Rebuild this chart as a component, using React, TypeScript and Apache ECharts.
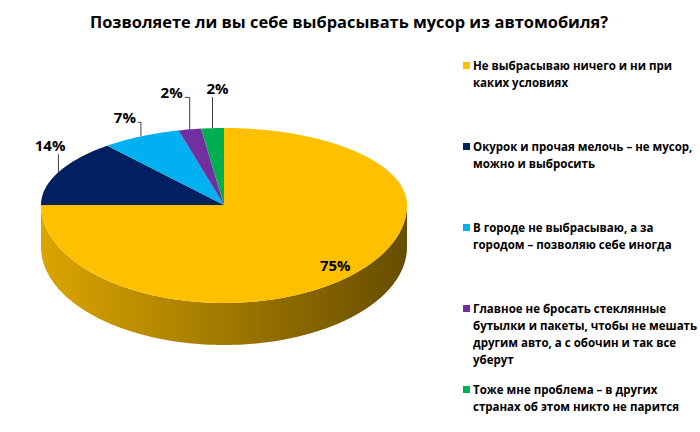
import { useEffect, useRef } from "react";
import * as echarts from "echarts";

const chartTitle = "Позволяете ли вы себе выбрасывать мусор из автомобиля?";
const categories = [
  "Не выбрасываю ничего и ни при\nкаких условиях",
  "Окурок и прочая мелочь – не мусор,\nможно и выбросить",
  "В городе не выбрасываю, а за\nгородом – позволяю себе иногда",
  "Главное не бросать стеклянные\nбутылки и пакеты, чтобы не мешать\nдругим авто, а с обочин и так все\nуберут",
  "Тоже мне проблема – в других\nстранах об этом никто не парится",
];
const shares = [75, 14, 7, 2, 2];
const colors = ["#FFC000", "#002060", "#00B0F0", "#7030A0", "#00B050"];

// 3D pie look: ellipse with a flatter back half (perspective) and a side wall
const CX = 224;
const CY = 205;
const RX = 183;
const RY_BACK = 77;
const RY_FRONT = 98;
const DEPTH = 42;
// label anchor (right edge, middle) relative to the rim point at the slice middle; null = inside
const labelOffsets: (number[] | null)[] = [null, [7, -27], [-5, -19], [-7, -37], [16, -40]];

const FONT = "'Open Sans', 'Noto Sans', sans-serif";

const rimPoint = (deg: number, k = 1, dy = 0) => {
  const r = (deg * Math.PI) / 180;
  const c = Math.cos(r);
  const ry = c > 0 ? RY_BACK : RY_FRONT;
  return [CX + RX * k * Math.sin(r), CY - ry * k * c + dy];
};

const arc = (a0: number, a1: number, dy = 0) => {
  const n = Math.max(2, Math.ceil(Math.abs(a1 - a0)));
  const pts: number[][] = [];
  for (let i = 0; i <= n; i++) pts.push(rimPoint(a0 + ((a1 - a0) * i) / n, 1, dy));
  return pts;
};

// darken a colour by a factor (0..1)
const shade = (color: string, f: number) => {
  const c = echarts.color.parse(color);
  return `rgb(${Math.round(c[0] * f)},${Math.round(c[1] * f)},${Math.round(c[2] * f)})`;
};

export default function App() {
  const chartRef = useRef<HTMLDivElement>(null);

  useEffect(() => {
    document.body.style.margin = "0";
    if (!chartRef.current) return;
    const chart = echarts.init(chartRef.current, undefined, { renderer: "svg" });
    const total = shares.reduce((s, v) => s + v, 0);

    chart.setOption({
      animation: false,
      backgroundColor: "#fff",
      title: {
        text: chartTitle,
        left: 85,
        top: 8,
        textStyle: { fontFamily: FONT, fontSize: 16.4, fontWeight: "bold", color: "#000" },
      },
      series: [
        {
          type: "custom",
          coordinateSystem: "none",
          data: shares.map((v, i) => ({ value: v, name: categories[i], itemStyle: { color: colors[i] } })),
          renderItem: (params: any, api: any) => {
            const i = params.dataIndex;
            const v = api.value(0) as number;
            const before = shares.slice(0, i).reduce((s, x) => s + x, 0);
            const start = (before / total) * 360;
            const end = ((before + v) / total) * 360;
            const mid = (start + end) / 2;
            const color = api.visual("color") as string;
            const children: any[] = [];

            const s0 = Math.max(start, 90);
            const s1 = Math.min(end, 270);
            if (s1 > s0) {
              children.push({
                type: "polygon",
                shape: { points: [...arc(s0, s1), ...arc(s1, s0, DEPTH)] },
                style: {
                  fill: new echarts.graphic.LinearGradient(0, 0, 1, 0, [
                    { offset: 0, color: shade(color, 0.86) },
                    { offset: 0.5, color: shade(color, 0.63) },
                    { offset: 1, color: shade(color, 0.4) },
                  ]),
                },
              });
            }
            children.push({
              type: "polygon",
              shape: { points: [[CX, CY], ...arc(start, end)] },
              style: { fill: color },
            });

            const text = Math.round((v / total) * 100) + "%";
            const off = labelOffsets[i];
            if (!off) {
              const [lx, ly] = rimPoint(mid, 0.86);
              children.push({
                type: "text",
                x: lx,
                y: ly,
                style: { text, fill: "#000", fontFamily: FONT, fontSize: 15, fontWeight: "bold", align: "center", verticalAlign: "middle" },
              });
            } else {
              const [rx, ry] = rimPoint(mid);
              const lx = rx + off[0];
              const ly = ry + off[1];
              children.push({
                type: "text",
                x: lx,
                y: ly,
                style: { text, fill: "#000", fontFamily: FONT, fontSize: 15, fontWeight: "bold", align: "right", verticalAlign: "middle" },
              });
              const pts = lx + 2 < rx - 1 ? [[lx + 2, ly + 5], [rx, ly + 5], [rx, ry]] : [[rx, ly + 9], [rx, ry]];
              children.push({ type: "polyline", shape: { points: pts }, style: { stroke: "#404040", lineWidth: 1, fill: "none" } });
            }
            return { type: "group", children };
          },
        },
      ],
      graphic: categories.map((name, i) => ({
        type: "group",
        left: 463,
        top: 57 + i * 81,
        children: [
          { type: "rect", shape: { x: 0, y: 5, width: 7, height: 7 }, style: { fill: colors[i] } },
          {
            type: "text",
            x: 10,
            y: 0,
            style: { text: name, fill: "#000", fontFamily: FONT, fontSize: 11.5, fontWeight: "bold", lineHeight: 17, verticalAlign: "top" },
          },
        ],
      })),
    });

    return () => chart.dispose();
  }, []);

  return <div ref={chartRef} style={{ width: 700, height: 432 }} />;
}
